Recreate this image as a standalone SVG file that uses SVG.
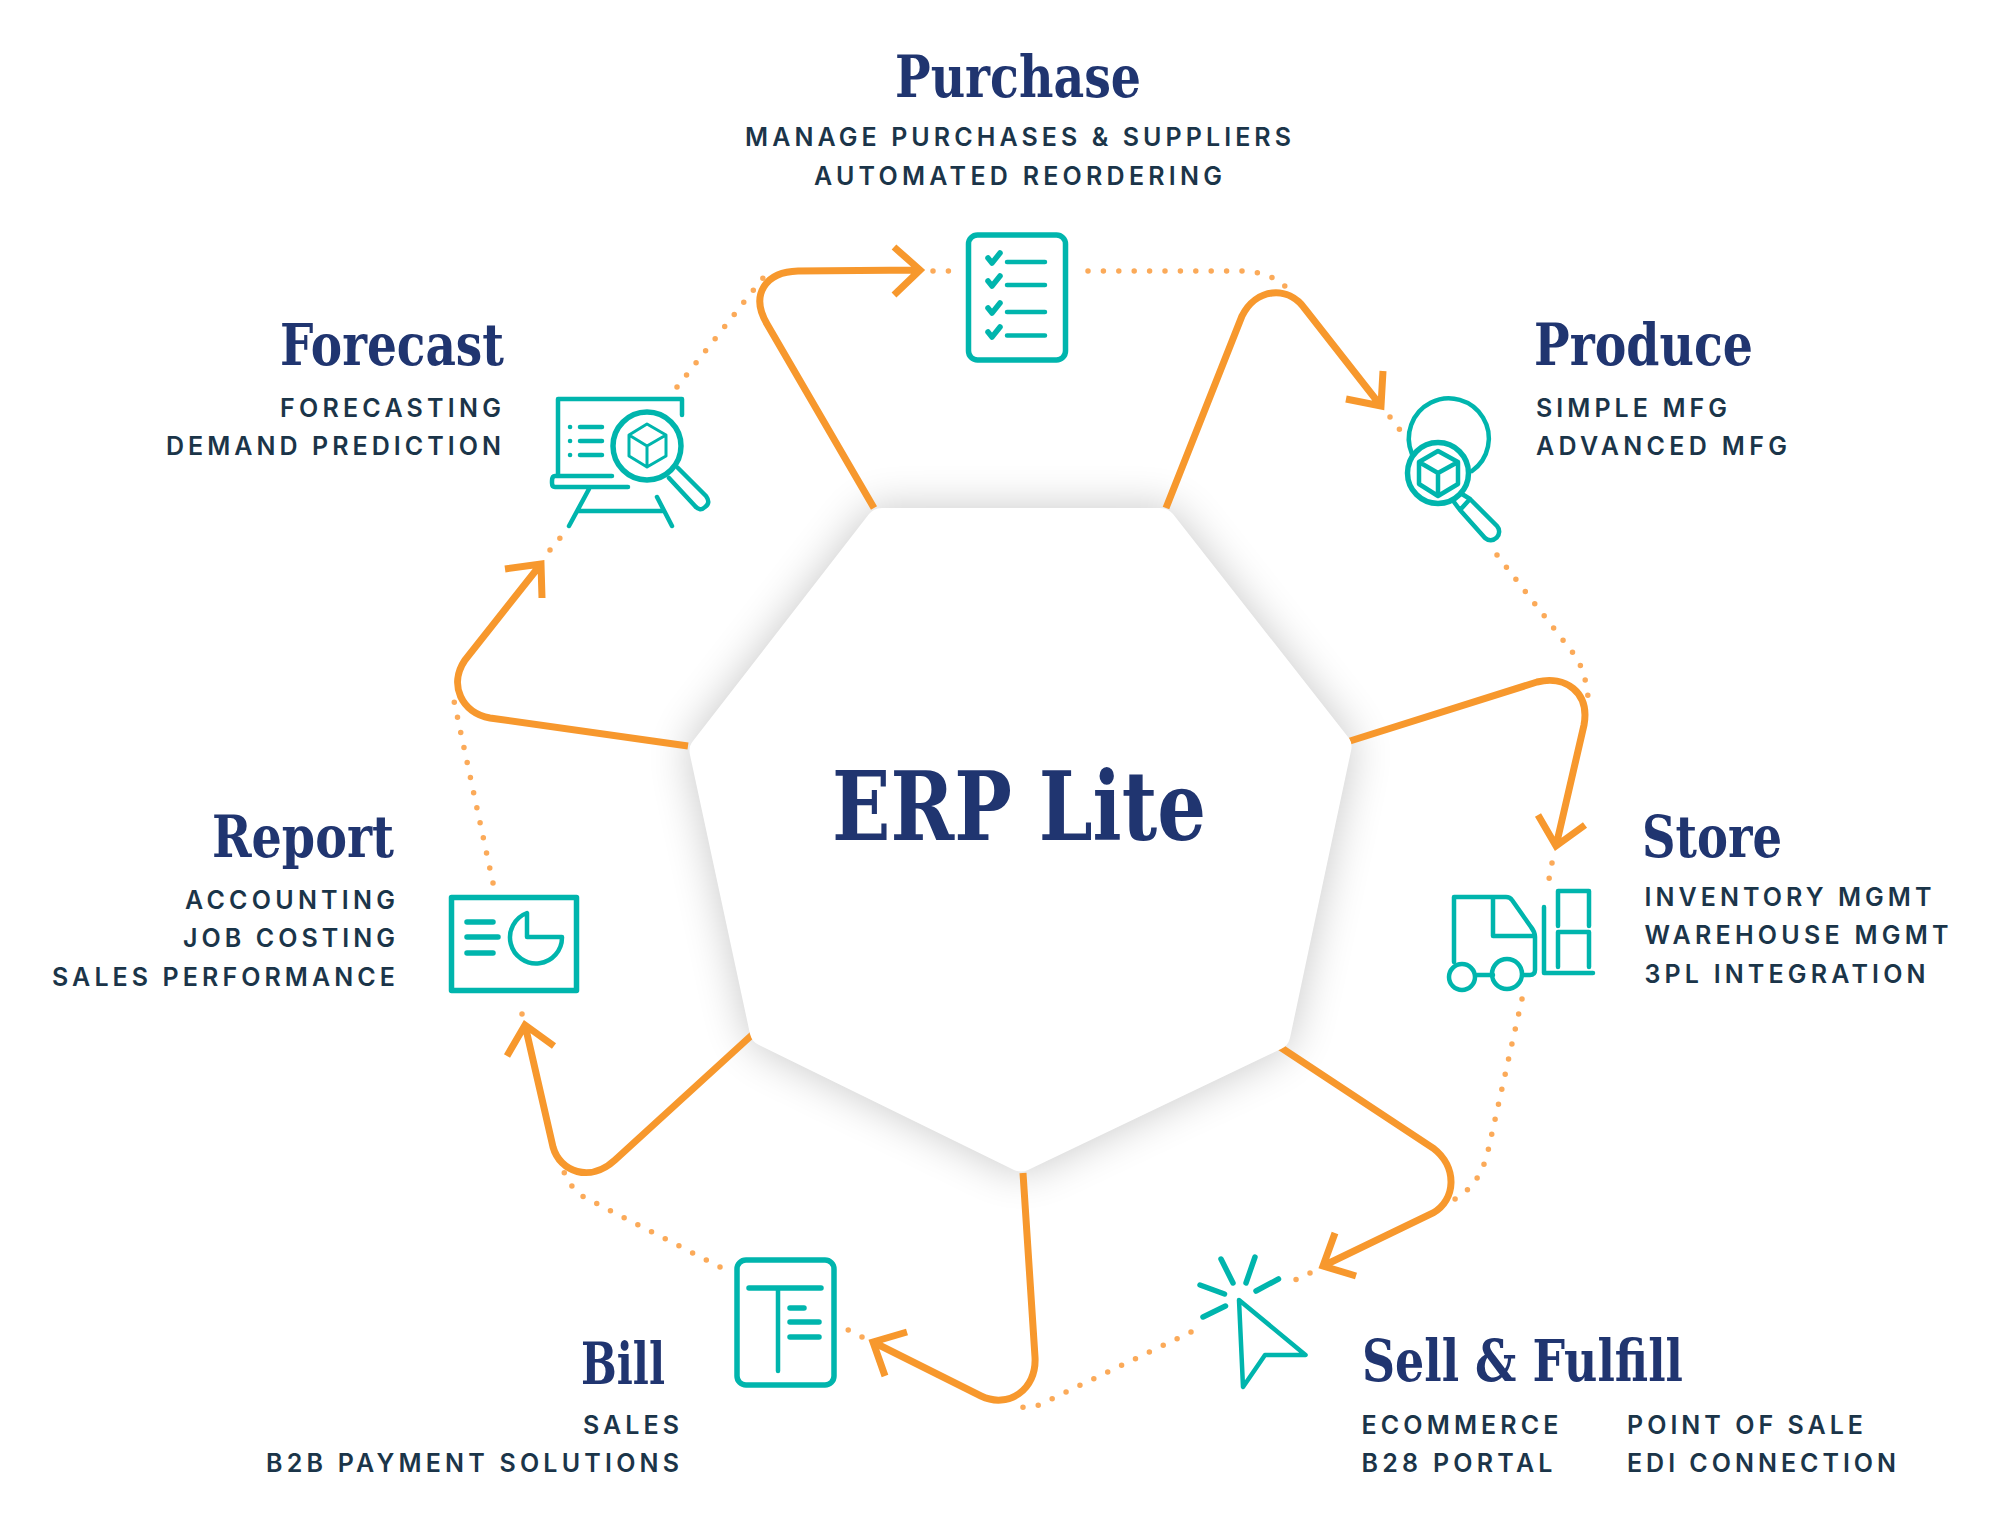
<svg xmlns="http://www.w3.org/2000/svg" width="2000" height="1528" viewBox="0 0 2000 1528">
<defs>
<style>
.h{font-family:"DejaVu Serif",serif;font-weight:700;fill:#203570;font-size:58px}
.t{font-family:Inter,"Liberation Sans",sans-serif;font-weight:600;fill:#1b3549;font-size:25px}
.c{fill:none;stroke:#f7982d;stroke-width:7;stroke-linejoin:miter}
.d{fill:none;stroke:#fbaa59;stroke-width:5.500;stroke-linecap:round;stroke-dasharray:0 15.400}
.i{fill:none;stroke:#00b5ad;stroke-width:4.500;stroke-linecap:round;stroke-linejoin:round}
.b{stroke-width:5.500}
</style>
<filter id="sh" x="-20%" y="-20%" width="140%" height="140%"><feGaussianBlur stdDeviation="22"/></filter>
</defs>
<rect width="2000" height="1528" fill="#fff"/>
<path d="M874 508H1168L1353 743L1288 1046L1021 1173L752 1042L688 747Z" fill="#000" opacity=".22" filter="url(#sh)"/>
<g id="connectors">
<path class="c" d="M874 508L767 324C750 295 765 272 798 271L920 270M894 247L920 270L894 295"/>
<path class="c" d="M1166 508L1242 316C1256 288 1288 285 1305 309L1381 406M1383 371L1381 406L1346 399"/>
<path class="c" d="M1350 741L1537 682C1565 675 1590 692 1584 725L1556 846M1538 815L1556 846L1585 825"/>
<path class="c" d="M1280 1047L1433 1148C1458 1167 1456 1200 1433 1213L1323 1266M1335 1233L1323 1266L1356 1276"/>
<path class="c" d="M1023 1173L1035 1357C1037 1390 1008 1409 981 1396L873 1342M907 1332L873 1342L885 1376"/>
<path class="c" d="M753 1034L615 1160C590 1183 560 1172 553 1147L525 1025M507 1056L525 1025L554 1046"/>
<path class="c" d="M688 746L490 718C462 713 448 685 465 660L541 564M505 569L541 564L542 598"/>
<path class="d" d="M677 387L763 278"/>
<path class="d" d="M933 271H950"/>
<path class="d" d="M1088 271H1243Q1270 272 1286 287"/>
<path class="d" d="M1390 417L1400 430"/>
<path class="d" d="M1497 555L1573 653Q1585 668 1588 697"/>
<path class="d" d="M1552 863L1549 879"/>
<path class="d" d="M1522 999L1488 1151Q1480 1185 1455 1199"/>
<path class="d" d="M1310 1273L1295 1280"/>
<path class="d" d="M1191 1332L1039 1405Q1024 1409 1009 1406"/>
<path class="d" d="M862 1337L848 1330"/>
<path class="d" d="M720 1267L582 1196Q570 1187 564 1172"/>
<path class="d" d="M522 1014L519 999"/>
<path class="d" d="M493 883L454 701"/>
<path class="d" d="M550 550L560 538"/>
</g>
<path id="hub" d="M882 508H1160Q1168 508 1173 514L1348 737Q1353 743 1351 751L1290 1038Q1288 1046 1281 1049L1028 1170Q1021 1173 1014 1170L759 1045Q752 1042 750 1034L690 755Q688 747 693 741L869 514Q874 508 882 508Z" fill="#fff"/>
<g id="center"><text class="h" x="832" y="840" style="font-size:96px" textLength="374" lengthAdjust="spacingAndGlyphs">ERP Lite</text></g>
<g id="purchase">
<text class="h" x="895" y="97" textLength="246" lengthAdjust="spacingAndGlyphs">Purchase</text>
<text class="t" x="745" y="146" textLength="546">MANAGE PURCHASES &amp; SUPPLIERS</text>
<text class="t" x="814" y="184.500" textLength="408">AUTOMATED REORDERING</text>
<rect class="i b" x="968.500" y="235" width="97" height="125" rx="9"/>
<path class="i" d="M1007 262H1045M1007 285H1045M1007 312H1045M1007 335.500H1045"/>
<path class="i b" d="M988 258L992 263L1000 253M988 281L992 286L1000 276M988 308L992 313L1000 303M988 332L992 337L1000 327"/>
</g>
<g id="produce">
<text class="h" x="1534" y="365" textLength="219" lengthAdjust="spacingAndGlyphs">Produce</text>
<text class="t" x="1536" y="417" textLength="191">SIMPLE MFG</text>
<text class="t" x="1536" y="455" textLength="251">ADVANCED MFG</text>
<path class="i" d="M1412 454A40 40 0 1 1 1472 471"/>
<circle class="i b" cx="1438" cy="473" r="30.500"/>
<path class="i" d="M1438 451L1458 462V484L1438 496L1419 484V462ZM1419 462L1438 473L1458 462M1438 473V496"/>
<path class="i" d="M1470 499L1497 526A8.500 8.500 0 0 1 1485 538L1460 510ZM1462 494L1470 499M1454 502L1460 510"/>
</g>
<g id="store">
<text class="h" x="1642" y="857" textLength="140" lengthAdjust="spacingAndGlyphs">Store</text>
<text class="t" x="1644.500" y="906" textLength="287">INVENTORY MGMT</text>
<text class="t" x="1644.500" y="944" textLength="304">WAREHOUSE MGMT</text>
<text class="t" x="1644.500" y="983" textLength="281">3PL INTEGRATION</text>
<path class="i" d="M1454 962V897H1506Q1510 897 1512 900L1531 927Q1535 932 1535 937V970Q1535 975 1530 975H1524M1493 897V936H1535M1477 975H1493M1544 907V973H1593M1558 926V891H1589V926M1558 967V932H1589V967"/>
<circle class="i" cx="1462" cy="977" r="13"/>
<circle class="i" cx="1507" cy="974" r="15"/>
</g>
<g id="sell">
<text class="h" x="1362" y="1381" textLength="321" lengthAdjust="spacingAndGlyphs">Sell &amp; Fulfill</text>
<text class="t" x="1361.500" y="1433.500" textLength="197">ECOMMERCE</text>
<text class="t" x="1361.500" y="1472" textLength="191">B28 PORTAL</text>
<text class="t" x="1627" y="1433.500" textLength="236">POINT OF SALE</text>
<text class="t" x="1627" y="1472" textLength="269">EDI CONNECTION</text>
<path class="i" d="M1239 1300L1305.500 1355L1265 1355L1243 1387Z"/>
<path class="i b" d="M1221 1259L1233 1283M1255 1257L1246 1283M1278.500 1279L1256 1291M1200 1285L1224.500 1294M1225.500 1306L1203 1317"/>
</g>
<g id="bill">
<text class="h" x="581" y="1384" textLength="84" lengthAdjust="spacingAndGlyphs">Bill</text>
<text class="t" x="583" y="1433.500" textLength="96">SALES</text>
<text class="t" x="266" y="1472" textLength="413">B2B PAYMENT SOLUTIONS</text>
<rect class="i b" x="737" y="1260" width="97" height="125" rx="9"/>
<path class="i b" d="M749 1288H821M790 1308H804M790 1322H819M790 1337H819"/>
<path class="i" d="M778 1290V1371"/>
</g>
<g id="report">
<text class="h" x="212" y="857" textLength="182" lengthAdjust="spacingAndGlyphs">Report</text>
<text class="t" x="185" y="909" textLength="210">ACCOUNTING</text>
<text class="t" x="183" y="947" textLength="212">JOB COSTING</text>
<text class="t" x="52" y="986" textLength="343">SALES PERFORMANCE</text>
<rect class="i b" x="451.500" y="897.500" width="125" height="93"/>
<path class="i b" d="M467 922H493M467 937H498M467 953H493"/>
<path class="i" d="M527 913V937H562A26 26 0 1 1 527 913Z"/>
</g>
<g id="forecast">
<text class="h" x="280" y="365" textLength="224" lengthAdjust="spacingAndGlyphs">Forecast</text>
<text class="t" x="280" y="417" textLength="221">FORECASTING</text>
<text class="t" x="166" y="455" textLength="335">DEMAND PREDICTION</text>
<path class="i" d="M682 415V399H558V475M612 476H555Q552 476 552 481V483Q552 487 555 487H628M589 489L569 526M578 511H663M657 497L672 526"/>
<path class="i" d="M580 427H602M580 441H602M580 455H602M570 427H570.100M570 441H570.100M570 455H570.100"/>
<circle class="i b" cx="647" cy="446" r="34"/>
<path class="i" style="stroke-width:3" d="M647 424L666 435V456L647 467L629 456V435ZM629 435L647 446L666 435M647 446V467"/>
<path class="i" d="M678 468L706 496Q711 503 705 507Q700 512 695 506L669 478"/>
</g>
</svg>
